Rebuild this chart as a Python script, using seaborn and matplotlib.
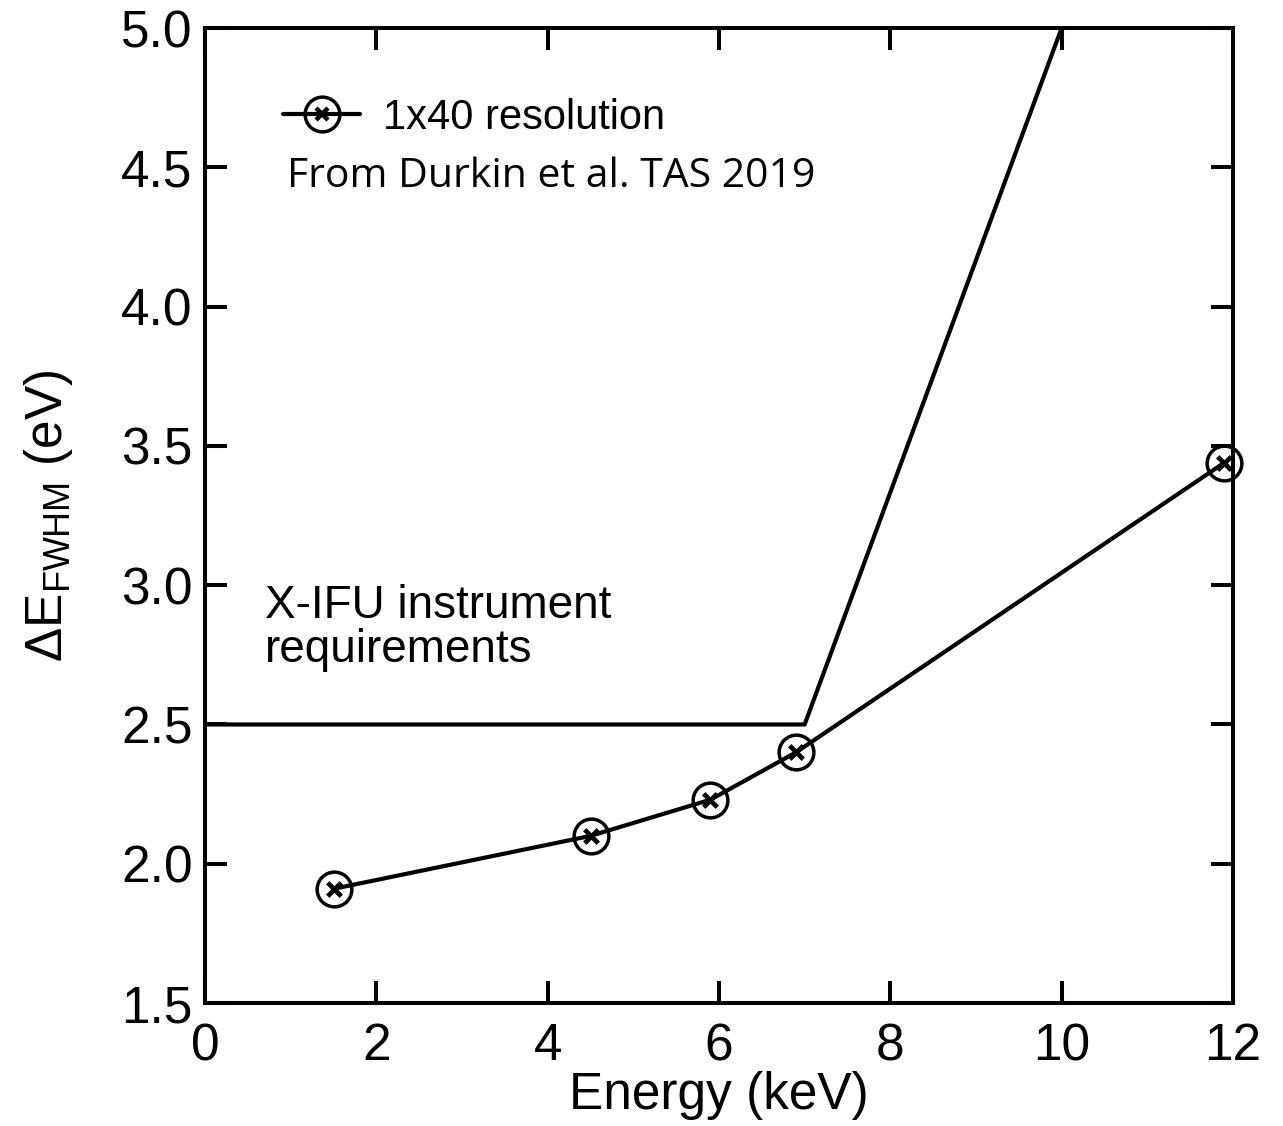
import numpy as np
import pandas as pd
import matplotlib
matplotlib.use("Agg")
import matplotlib.pyplot as plt
from matplotlib.lines import Line2D
import seaborn as sns

# Measured energy resolution of the 1x40 array
energy_kev = [1.5, 4.5, 5.9, 6.9, 11.9]
resolution_ev = [1.91, 2.10, 2.23, 2.40, 3.44]

# X-IFU requirement envelope
req_energy_kev = [0.0, 7.0, 10.0]
req_resolution_ev = [2.5, 2.5, 5.0]

x_ticks = [0, 2, 4, 6, 8, 10, 12]
y_ticks = [1.5, 2.0, 2.5, 3.0, 3.5, 4.0, 4.5, 5.0]

sns.set_theme(style="ticks")
plt.rcParams["font.family"] = ["Liberation Sans", "DejaVu Sans"]
plt.rcParams["mathtext.default"] = "regular"
plt.rcParams["text.color"] = "black"
plt.rcParams["axes.labelcolor"] = "black"
plt.rcParams["xtick.color"] = "black"
plt.rcParams["ytick.color"] = "black"

fig = plt.figure(figsize=(12.83, 11.26), dpi=100)
ax = fig.add_axes([0.1598, 0.1092, 0.961 - 0.1598, 0.9751 - 0.1092])

meas = pd.DataFrame({"energy": energy_kev, "res": resolution_ev})
req = pd.DataFrame({"energy": req_energy_kev, "res": req_resolution_ev})

LW = 3.0
sns.lineplot(data=req, x="energy", y="res", ax=ax, color="black", lw=LW,
             sort=False, estimator=None)
sns.lineplot(data=meas, x="energy", y="res", ax=ax, color="black", lw=LW,
             marker="o", markersize=25, markerfacecolor="none",
             markeredgecolor="black", markeredgewidth=2.5,
             estimator=None, clip_on=False)
sns.scatterplot(data=meas, x="energy", y="res", ax=ax, marker="x", s=95,
                color="black", linewidth=3.4, zorder=5, clip_on=False)

ax.set_xlim(0, 12)
ax.set_ylim(1.5, 5.0)
ax.set_xticks(x_ticks)
ax.set_yticks(y_ticks)
ax.set_xticklabels([str(t) for t in x_ticks])
ax.set_yticklabels([f"{t:.1f}" for t in y_ticks])

for s in ax.spines.values():
    s.set_visible(True)
    s.set_linewidth(2.9)
    s.set_color("black")

ax.tick_params(axis="both", which="major", direction="in", length=16, width=2.9,
               labelsize=37, top=True, right=True, colors="black")
ax.tick_params(axis="x", pad=14)
ax.tick_params(axis="y", pad=9)

ax.set_xlabel("Energy (keV)", fontsize=37, labelpad=0)
ax.set_ylabel(r"$\Delta$E$_{FWHM}$ (eV)", fontsize=37, labelpad=33)

# legend entry: line through a circled cross
h_circ = Line2D([], [], color="black", lw=LW, marker="o", markersize=25,
                markerfacecolor="none", markeredgewidth=2.5)
h_x = Line2D([], [], color="black", lw=0, marker="x", markersize=9,
             markeredgewidth=3.2)
ax.legend([(h_circ, h_x)], ["1x40 resolution"], loc="center left",
          bbox_to_anchor=(0.076, 0.908), frameon=False, fontsize=30,
          handlelength=1.85, handletextpad=0.55, borderaxespad=0, borderpad=0)

ax.text(0.0798, 0.847, "From Durkin et al. TAS 2019", transform=ax.transAxes,
        fontsize=29.5, family=["Open Sans", "DejaVu Sans"], ha="left",
        va="center", color="black")

ax.text(0.058, 0.385, "X-IFU instrument\nrequirements", transform=ax.transAxes,
        fontsize=33, ha="left", va="center", linespacing=1.0, color="black")

fig.savefig("out.png", dpi=100)
